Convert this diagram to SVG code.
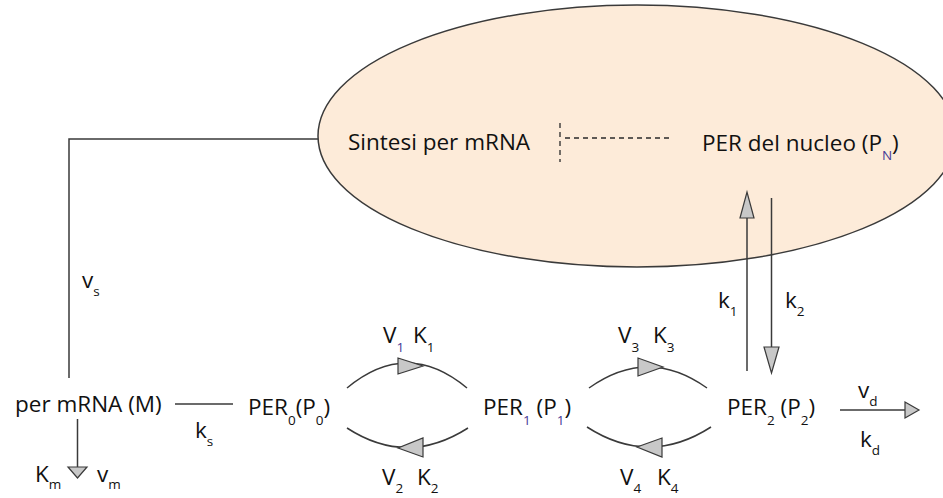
<svg xmlns="http://www.w3.org/2000/svg" width="943" height="498" viewBox="0 0 943 498">
  <style>
    text { font-family: "Open Sans", "Noto Sans", "Liberation Sans", sans-serif; font-size: 22.5px; fill: #111111; }
    .sub { font-size: 13.5px; }
    .hi { fill: #473a96; }
    .ln { fill: none; stroke: #3a3a3a; stroke-width: 1.5; }
    .dash { fill: none; stroke: #2a2a2a; stroke-width: 1.3; stroke-dasharray: 5 4; }
    .head { fill: #c8c8c8; stroke: #3a3a3a; stroke-width: 1.2; stroke-linejoin: miter; }
  </style>

  <!-- nucleus compartment -->
  <g id="nucleus">
    <ellipse cx="637" cy="136" rx="319" ry="131" fill="#fdebd9" stroke="#3a3a3a" stroke-width="1.5"/>
    <line class="dash" x1="560" y1="123" x2="560" y2="162"/>
    <line class="dash" x1="565" y1="138" x2="673" y2="138"/>
  </g>

  <g id="sintesi">
    <text x="348" y="150">Sintesi per mRNA</text>
  </g>
  <g id="per-nucleo">
    <text x="702" y="151">PER del nucleo (P<tspan class="sub hi" dy="9">N</tspan><tspan dy="-9">)</tspan></text>
  </g>

  <!-- species -->
  <g id="mrna">
    <text x="15" y="412">per mRNA (M)</text>
  </g>
  <g id="per0">
    <text x="248" y="415">PER<tspan class="sub" dy="10">0</tspan><tspan dy="-10">(P</tspan><tspan class="sub" dy="10">0</tspan><tspan dy="-10">)</tspan></text>
  </g>
  <g id="per1">
    <text x="483" y="415">PER<tspan class="sub hi" dy="10">1</tspan><tspan dy="-10"> (P</tspan><tspan class="sub hi" dy="10">1</tspan><tspan dy="-10">)</tspan></text>
  </g>
  <g id="per2">
    <text x="727" y="415">PER<tspan class="sub" dy="10">2</tspan><tspan dy="-10"> (P</tspan><tspan class="sub" dy="10">2</tspan><tspan dy="-10">)</tspan></text>
  </g>

  <!-- reactions -->
  <g id="connectors">
    <polyline class="ln" points="69,378 69,139 318,139"/>
    <line class="ln" x1="175" y1="404" x2="233" y2="404"/>

    <line class="ln" x1="77.5" y1="419" x2="77.5" y2="467"/>
    <polygon class="head" points="68,467 87,467 77.5,478"/>

    <path class="ln" d="M347,388 Q407,338 467,388"/>
    <polygon class="head" points="398,358 398,374 423,366"/>
    <path class="ln" d="M347,428 Q407,467 468,428"/>
    <polygon class="head" points="423,438 423,457 398,448"/>

    <path class="ln" d="M589,388 Q648,346 707,388"/>
    <polygon class="head" points="638,358 638,376 663,367"/>
    <path class="ln" d="M587,427 Q649,467 711,427"/>
    <polygon class="head" points="662,438 662,457 637,447"/>

    <line class="ln" x1="747" y1="371" x2="747" y2="218"/>
    <polygon class="head" points="740,218 754,218 747,192"/>
    <line class="ln" x1="771.5" y1="198" x2="771.5" y2="347"/>
    <polygon class="head" points="764,347 779,347 771.5,373"/>

    <line class="ln" x1="840" y1="410" x2="905" y2="410"/>
    <polygon class="head" points="905,402 905,418 919,410"/>
  </g>

  <!-- rate labels -->
  <g id="labels">
    <text x="82" y="288">v<tspan class="sub" dy="8">s</tspan></text>
    <text x="195" y="438">k<tspan class="sub" dy="8">s</tspan></text>
    <text x="35" y="482">K<tspan class="sub" dy="7">m</tspan></text>
    <text x="97" y="482">v<tspan class="sub" dy="7">m</tspan></text>

    <text x="383" y="343">V<tspan class="sub hi" dy="9">1</tspan></text>
    <text x="413" y="343">K<tspan class="sub" dy="9">1</tspan></text>
    <text x="382" y="485">V<tspan class="sub" dy="8">2</tspan></text>
    <text x="417" y="485">K<tspan class="sub" dy="8">2</tspan></text>

    <text x="618" y="343">V<tspan class="sub" dy="9">3</tspan></text>
    <text x="653" y="343">K<tspan class="sub" dy="9">3</tspan></text>
    <text x="620" y="485">V<tspan class="sub" dy="8">4</tspan></text>
    <text x="657" y="485">K<tspan class="sub" dy="8">4</tspan></text>

    <text x="718" y="308">k<tspan class="sub" dy="8">1</tspan></text>
    <text x="785" y="308">k<tspan class="sub" dy="8">2</tspan></text>

    <text x="858" y="398">v<tspan class="sub" dy="8">d</tspan></text>
    <text x="860" y="447">k<tspan class="sub" dy="8">d</tspan></text>
  </g>
</svg>
